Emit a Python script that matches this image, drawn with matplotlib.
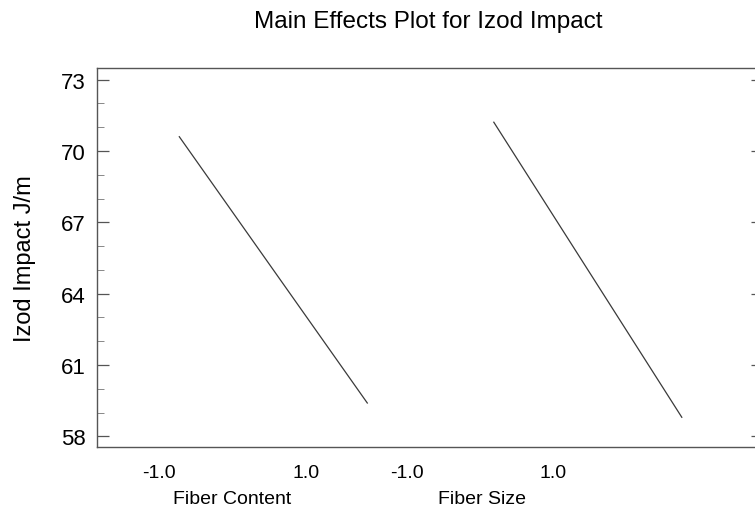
import matplotlib
matplotlib.use("Agg")
import matplotlib.pyplot as plt
from matplotlib.ticker import FixedLocator, MultipleLocator
import matplotlib.transforms as mtransforms

plt.rcParams['font.family'] = ['Liberation Sans', 'DejaVu Sans']

# Data
factors = ["Fiber Content", "Fiber Size"]
levels = [-1.0, 1.0]
fiber_content_means = [70.60, 59.40]
fiber_size_means = [71.21, 58.80]
level_labels = ["-1.0", "1.0", "-1.0", "1.0"]
y_ticks = [58, 61, 64, 67, 70, 73]

W, H, DPI = 755, 510, 100
fig = plt.figure(figsize=(W / DPI, H / DPI), dpi=DPI)

px_unit = 94.0
c1 = 273.3
ax_l, ax_r, ax_t, ax_b = 97, 763, 69, 448
ax = fig.add_axes([ax_l / W, (H - ax_b) / H, (ax_r - ax_l) / W, (ax_b - ax_t) / H])

offsets = [0.0, (587.8 - c1) / px_unit]
series = [fiber_content_means, fiber_size_means]
line_color = "#3a3a3a"
for off, ys in zip(offsets, series):
    ax.plot([off + l for l in levels], ys, color=line_color, lw=0.9)

ax.set_xlim((ax_l - c1) / px_unit, (ax_r - c1) / px_unit)
ax.set_ylim(57.55, 73.49)

ax.yaxis.set_major_locator(FixedLocator(y_ticks))
ax.yaxis.set_minor_locator(MultipleLocator(1))
ax.tick_params(axis='y', which='major', direction='in', length=8.5, width=0.9,
               color="#555555", labelsize=16, pad=8, right=True, labelright=False)
ax.tick_params(axis='y', which='minor', direction='in', length=5, width=0.7,
               color="#888888", right=True)

# x tick labels positioned under the level points
tick_px = [159, 306, 407, 553]
ax.set_xticks([(p - c1) / px_unit for p in tick_px])
ax.set_xticklabels(level_labels)
ax.tick_params(axis='x', length=0, labelsize=14, pad=12.5)

for s in ax.spines.values():
    s.set_color("#555555")
    s.set_linewidth(1.0)

trans = mtransforms.blended_transform_factory(ax.transData, fig.transFigure)
name_px = [232.5, 481.7]
for name, p in zip(factors, name_px):
    ax.text((p - c1) / px_unit, 1 - 504 / H, name, transform=trans,
            ha='center', va='baseline', fontsize=14)

ax.set_ylabel("Izod Impact J/m", fontsize=17)
ax.yaxis.set_label_coords((36 - ax_l) / (ax_r - ax_l), 0.5)
fig.text(428 / W, 1 - 28 / H, "Main Effects Plot for Izod Impact",
         ha='center', va='baseline', fontsize=17.5)

fig.savefig("out.png", dpi=DPI)
